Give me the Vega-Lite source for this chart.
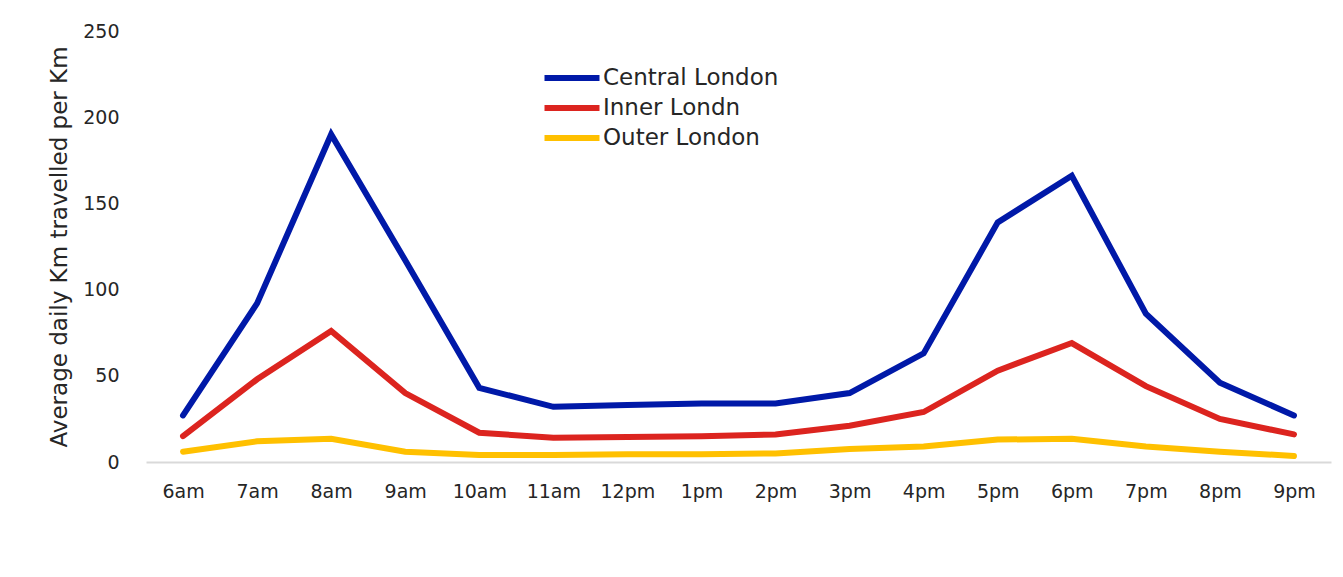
{
  "$schema": "https://vega.github.io/schema/vega-lite/v6.json",
  "width": 1185,
  "height": 431,
  "autosize": {"type": "none"},
  "padding": {"left": 146, "top": 31, "right": 12, "bottom": 115},
  "background": "white",
  "config": {
    "view": {"stroke": null},
    "font": "DejaVu Sans"
  },
  "data": {
    "values": [
      {"time": "6am", "area": "Central London", "km": 27},
      {"time": "7am", "area": "Central London", "km": 92},
      {"time": "8am", "area": "Central London", "km": 190},
      {"time": "9am", "area": "Central London", "km": 117},
      {"time": "10am", "area": "Central London", "km": 43},
      {"time": "11am", "area": "Central London", "km": 32},
      {"time": "12pm", "area": "Central London", "km": 33},
      {"time": "1pm", "area": "Central London", "km": 34},
      {"time": "2pm", "area": "Central London", "km": 34},
      {"time": "3pm", "area": "Central London", "km": 40},
      {"time": "4pm", "area": "Central London", "km": 63},
      {"time": "5pm", "area": "Central London", "km": 139},
      {"time": "6pm", "area": "Central London", "km": 166},
      {"time": "7pm", "area": "Central London", "km": 86},
      {"time": "8pm", "area": "Central London", "km": 46},
      {"time": "9pm", "area": "Central London", "km": 27},
      {"time": "6am", "area": "Inner Londn", "km": 15},
      {"time": "7am", "area": "Inner Londn", "km": 48},
      {"time": "8am", "area": "Inner Londn", "km": 76},
      {"time": "9am", "area": "Inner Londn", "km": 40},
      {"time": "10am", "area": "Inner Londn", "km": 17},
      {"time": "11am", "area": "Inner Londn", "km": 14},
      {"time": "12pm", "area": "Inner Londn", "km": 14.5},
      {"time": "1pm", "area": "Inner Londn", "km": 15},
      {"time": "2pm", "area": "Inner Londn", "km": 16},
      {"time": "3pm", "area": "Inner Londn", "km": 21},
      {"time": "4pm", "area": "Inner Londn", "km": 29},
      {"time": "5pm", "area": "Inner Londn", "km": 53},
      {"time": "6pm", "area": "Inner Londn", "km": 69},
      {"time": "7pm", "area": "Inner Londn", "km": 44},
      {"time": "8pm", "area": "Inner Londn", "km": 25},
      {"time": "9pm", "area": "Inner Londn", "km": 16},
      {"time": "6am", "area": "Outer London", "km": 6},
      {"time": "7am", "area": "Outer London", "km": 12},
      {"time": "8am", "area": "Outer London", "km": 13.5},
      {"time": "9am", "area": "Outer London", "km": 6},
      {"time": "10am", "area": "Outer London", "km": 4},
      {"time": "11am", "area": "Outer London", "km": 4},
      {"time": "12pm", "area": "Outer London", "km": 4.5},
      {"time": "1pm", "area": "Outer London", "km": 4.5},
      {"time": "2pm", "area": "Outer London", "km": 5},
      {"time": "3pm", "area": "Outer London", "km": 7.5},
      {"time": "4pm", "area": "Outer London", "km": 9},
      {"time": "5pm", "area": "Outer London", "km": 13},
      {"time": "6pm", "area": "Outer London", "km": 13.5},
      {"time": "7pm", "area": "Outer London", "km": 9},
      {"time": "8pm", "area": "Outer London", "km": 6},
      {"time": "9pm", "area": "Outer London", "km": 3.5}
    ]
  },
  "mark": {"type": "line", "strokeWidth": 6, "strokeCap": "round", "strokeJoin": "miter"},
  "encoding": {
    "x": {
      "field": "time",
      "type": "nominal",
      "sort": ["6am","7am","8am","9am","10am","11am","12pm","1pm","2pm","3pm","4pm","5pm","6pm","7pm","8pm","9pm"],
      "title": null,
      "axis": {
        "labelAngle": 0,
        "ticks": false,
        "domainColor": "#d9d9d9",
        "domainWidth": 2,
        "labelFontSize": 19,
        "labelColor": "#262626",
        "labelPadding": 20
      }
    },
    "y": {
      "field": "km",
      "type": "quantitative",
      "scale": {"domain": [0, 250]},
      "title": "Average daily Km travelled per Km",
      "axis": {
        "values": [0, 50, 100, 150, 200, 250],
        "domain": false,
        "ticks": false,
        "grid": false,
        "labelFontSize": 19,
        "labelColor": "#262626",
        "labelPadding": 27,
        "titleFontSize": 23,
        "titleFontWeight": "normal",
        "titleColor": "#262626",
        "titlePadding": 11
      }
    },
    "color": {
      "field": "area",
      "type": "nominal",
      "scale": {
        "domain": ["Central London", "Inner Londn", "Outer London"],
        "range": ["#0019a8", "#dc241f", "#ffc000"]
      },
      "legend": {
        "title": null,
        "orient": "none",
        "legendX": 409,
        "legendY": 30,
        "symbolType": "M-2,0H2",
        "symbolSize": 756,
        "symbolStrokeWidth": 6,
        "symbolFillColor": "transparent",
        "labelFontSize": 23,
        "labelColor": "#262626",
        "labelOffset": 14,
        "rowPadding": 1,
        "labelLimit": 400
      }
    }
  }
}
